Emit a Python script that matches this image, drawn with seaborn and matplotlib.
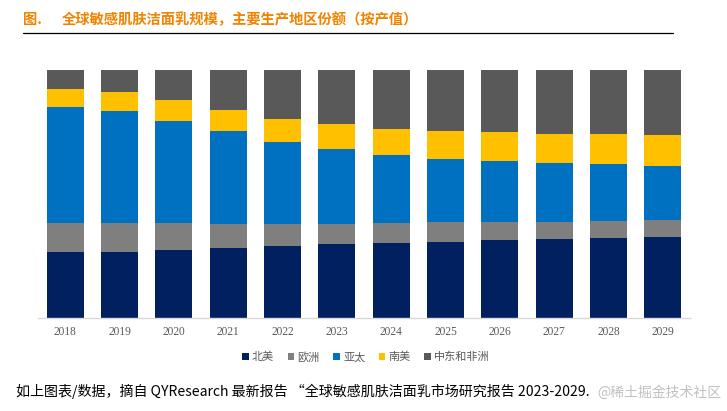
import matplotlib
matplotlib.use("Agg")
import matplotlib.pyplot as plt
import numpy as np
import pandas as pd
import seaborn as sns
from matplotlib.patches import Patch
from matplotlib.lines import Line2D

# 数据 (份额, %)
years = ['2018', '2019', '2020', '2021', '2022', '2023', '2024', '2025', '2026', '2027', '2028', '2029']
regions = ['北美', '欧洲', '亚太', '南美', '中东和非洲']
na = [26.5, 26.7, 27.4, 28.1, 29.2, 29.8, 30.2, 30.8, 31.3, 31.9, 32.1, 32.5]
eu = [11.8, 11.6, 10.9, 9.9, 8.9, 8.2, 8.1, 7.8, 7.3, 7.0, 6.9, 6.9]
ap = [46.6, 45.2, 41.3, 37.2, 33.1, 30.0, 27.3, 25.7, 24.7, 23.7, 23.0, 22.0]
sa = [7.5, 7.7, 8.3, 8.7, 9.3, 10.2, 10.6, 11.0, 11.6, 11.8, 12.1, 12.2]
mea = [7.5, 8.9, 12.1, 16.0, 19.6, 21.8, 23.8, 24.7, 25.1, 25.7, 25.9, 26.3]
colors = ['#002060', '#7F7F7F', '#0070C0', '#FFC000', '#595959']

sns.set_theme(style="white")
plt.rcParams['font.family'] = ['Noto Sans CJK SC', 'DejaVu Sans']

df = pd.DataFrame({'年份': years, '北美': na, '欧洲': eu, '亚太': ap, '南美': sa, '中东和非洲': mea})
vals = df[regions].values
vals = vals / vals.sum(axis=1, keepdims=True)
cum = np.cumsum(vals, axis=1)

fig = plt.figure(figsize=(7.27, 4.11), dpi=100)
ax = fig.add_axes([38 / 727, 93 / 411, 652 / 727, 248 / 411])

# 堆叠: 从最上层累计值开始画
for i in range(len(regions) - 1, -1, -1):
    d = pd.DataFrame({'年份': years, 'v': cum[:, i]})
    sns.barplot(data=d, x='年份', y='v', color=colors[i], saturation=1, width=0.68, ax=ax, linewidth=0)

ax.set_xlim(-0.5, 11.5)
ax.set_ylim(0, 1)
ax.set_yticks([])
ax.set(xlabel=None, ylabel=None)
sns.despine(ax=ax, left=True)
ax.spines['bottom'].set_color('#D9D9D9')
ax.spines['bottom'].set_linewidth(1)
ax.tick_params(axis='x', length=0, pad=6)
for lab in ax.get_xticklabels():
    lab.set_fontfamily(['Liberation Serif', 'DejaVu Serif'])
    lab.set_fontsize(8.3)
    lab.set_color('#595959')

# 图例
handles = [Patch(facecolor=c, edgecolor='none') for c in colors]
fig.legend(handles, regions, loc='center', bbox_to_anchor=(366 / 727, 1 - 357 / 411), ncol=5,
           frameon=False, handlelength=0.6, handleheight=0.6, handletextpad=0.3, columnspacing=1.2,
           prop={'size': 8}, labelcolor='#595959')

# 标题
fig.text(23 / 727, 1 - 20 / 411, '图.', color='#F08300', fontsize=10.3, fontweight='bold', va='center', ha='left')
fig.text(62 / 727, 1 - 20 / 411, '全球敏感肌肤洁面乳规模，主要生产地区份额（按产值）', color='#F08300',
         fontsize=10.3, fontweight='bold', va='center', ha='left')
fig.add_artist(Line2D([23 / 727, 673 / 727], [1 - 33 / 411, 1 - 33 / 411], color='black', linewidth=0.9))

# 底部说明
fig.text(16 / 727, 1 - 391 / 411, '如上图表/数据，摘自 QYResearch 最新报告 “全球敏感肌肤洁面乳市场研究报告 2023-2029.',
         color='black', fontsize=10.1, va='center', ha='left')
fig.text(721 / 727, 1 - 393 / 411, '@稀土掘金技术社区', color='#C0C0C0', fontsize=10, va='center', ha='right')

plt.savefig('out.png', dpi=100)
plt.close()
